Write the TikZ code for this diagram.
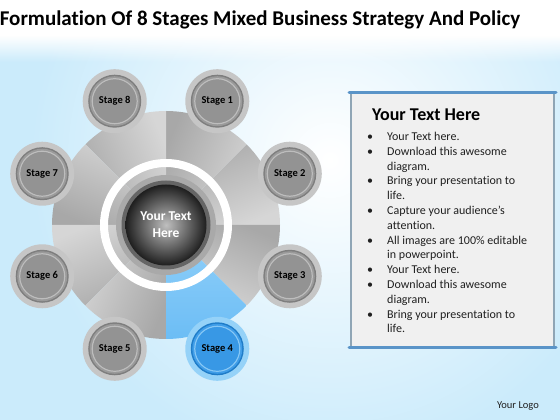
\documentclass[tikz,border=0pt]{standalone}
\usepackage{fontspec}
\setmainfont{Carlito}[Ligatures={NoCommon}]
\usetikzlibrary{calc,fadings}
\definecolor{bgblue}{HTML}{CBEBFB}
\definecolor{secdark}{HTML}{A8A8A8}
\definecolor{seclight}{HTML}{D6D6D6}
\definecolor{bluedark}{HTML}{6CBDF5}
\definecolor{bluelight}{HTML}{93D1F9}
\definecolor{halogray}{HTML}{C6C6C6}
\definecolor{ringgray}{HTML}{7E7E7E}
\definecolor{fillgray}{HTML}{9A9A9A}
\definecolor{hlgray}{HTML}{BDBDBD}
\definecolor{innergray}{HTML}{939393}
\definecolor{haloblue}{HTML}{95D2F8}
\definecolor{ringblue}{HTML}{1F7CC8}
\definecolor{fillblue}{HTML}{3F9DE8}
\definecolor{hlblue}{HTML}{86C7F5}
\definecolor{innerblue}{HTML}{3898E5}
\definecolor{boxfill}{HTML}{F0F0F0}
\definecolor{boxside}{HTML}{8FA5B5}
\definecolor{boxbar}{HTML}{5A94C8}
\definecolor{txt}{HTML}{202020}
\tikzfading[name=fadedown, top color=transparent!0, bottom color=transparent!100]
\tikzset{
  stagetext/.style={font=\fontsize{10.5}{11}\selectfont\bfseries, text=black, inner sep=0pt},
  bodytext/.style={font=\fontsize{12}{13}\selectfont, text=txt, anchor=base west, inner sep=0pt},
  bullettext/.style={font=\fontsize{12}{13}\selectfont, text=txt, anchor=base, inner sep=0pt},
  barline/.style={draw=boxbar, line width=3pt, line cap=round},
  sideline/.style={draw=boxside, line width=1.2pt}
}
\begin{document}
\begin{tikzpicture}[x=1pt,y=1pt]
\useasboundingbox (0,0) rectangle (560,420);
\begin{scope}
\clip (0,0) rectangle (560,420);
\fill[bgblue] (0,0) rectangle (560,420);
\shade[inner color=white, outer color=bgblue] (330,260) circle (300);
\fill[white] (0,384) rectangle (560,420);
\fill[white, path fading=fadedown] (0,358) rectangle (560,384.5);
\end{scope}

% title
\node[font=\fontsize{21}{24}\selectfont\bfseries, text=black, inner sep=0pt] (title) at (260,400) {Formulation Of 8 Stages Mixed Business Strategy And Policy};

% wheel
\coordinate (C) at (166,195);
\foreach \a in {0,45,90,135,180,225,315} {
  \shade[top color=secdark, bottom color=seclight, shading angle=\a+22.5]
    (C) -- ($(C)+(\a:114)$) arc[start angle=\a, end angle=\a+45, radius=114] -- cycle;
}
\shade[top color=bluelight, bottom color=bluedark]
  (C) -- ($(C)+(270:114)$) arc[start angle=270, end angle=315, radius=114] -- cycle;

\fill[white, even odd rule] (C) circle (66) (C) circle (58);
\fill[fillgray!85] (C) circle (50);
\fill[ringgray!80!black] (C) circle (44.5);
\shade[inner color=gray!50, outer color=black!88] (C) circle (40.5);
\node[font=\fontsize{13.5}{17}\selectfont\bfseries, text=white, align=center, inner sep=0pt] (ctr) at (C) {Your Text\\Here};

% stages
\foreach \i/\ang in {1/67.5,2/22.5,3/-22.5,5/-112.5,6/-157.5,7/157.5,8/112.5} {
  \coordinate (p\i) at ($(C)+(\ang:134)$);
  \fill[halogray] (p\i) circle (32);
  \fill[ringgray] (p\i) circle (26.5);
  \fill[fillgray] (p\i) circle (25);
  \draw[hlgray, line width=1.2pt] (p\i) circle (22.5);
  \fill[innergray] (p\i) circle (21.6);
  \node[stagetext] (s\i) at (p\i) {Stage \i};
}
\coordinate (p4) at ($(C)+(-67.5:134)$);
\fill[haloblue] (p4) circle (32);
\fill[ringblue] (p4) circle (26.5);
\fill[fillblue] (p4) circle (25);
\draw[hlblue, line width=1.2pt] (p4) circle (22.5);
\fill[innerblue] (p4) circle (21.6);
\node[stagetext] (s4) at (p4) {Stage 4};

% text box
\fill[boxfill] (351,72) rectangle (554,327);
\draw[sideline] (351,72) -- (351,327);
\draw[sideline] (554,72) -- (554,327);
\draw[barline] (349,327.5) -- (556,327.5);
\draw[barline] (349,72) -- (556,72);
\node[font=\fontsize{18}{20}\selectfont\bfseries, text=black, anchor=base west, inner sep=0pt] (hdr) at (372,299) {Your Text Here};

\foreach \k/\b/\t in {0/1/Your Text here.,
                      1/1/Download this awesome,
                      2/0/diagram.,
                      3/1/Bring your presentation to,
                      4/0/life.,
                      5/1/Capture your audience’s,
                      6/0/attention.,
                      7/1/All images are 100\% editable,
                      8/0/in powerpoint.,
                      9/1/Your Text here.,
                      10/1/Download this awesome,
                      11/0/diagram.,
                      12/1/Bring your presentation to,
                      13/0/life.} {
  \node[bodytext] (l\k) at (387,{279.5-14.8*\k}) {\t};
  \ifnum\b=1
    \node[bullettext] (b\k) at (370,{279.5-14.8*\k}) {•};
  \fi
}

\node[font=\fontsize{10.5}{12}\selectfont, text=txt, inner sep=0pt] (logo) at (518,14) {Your Logo};
\end{tikzpicture}
\end{document}
